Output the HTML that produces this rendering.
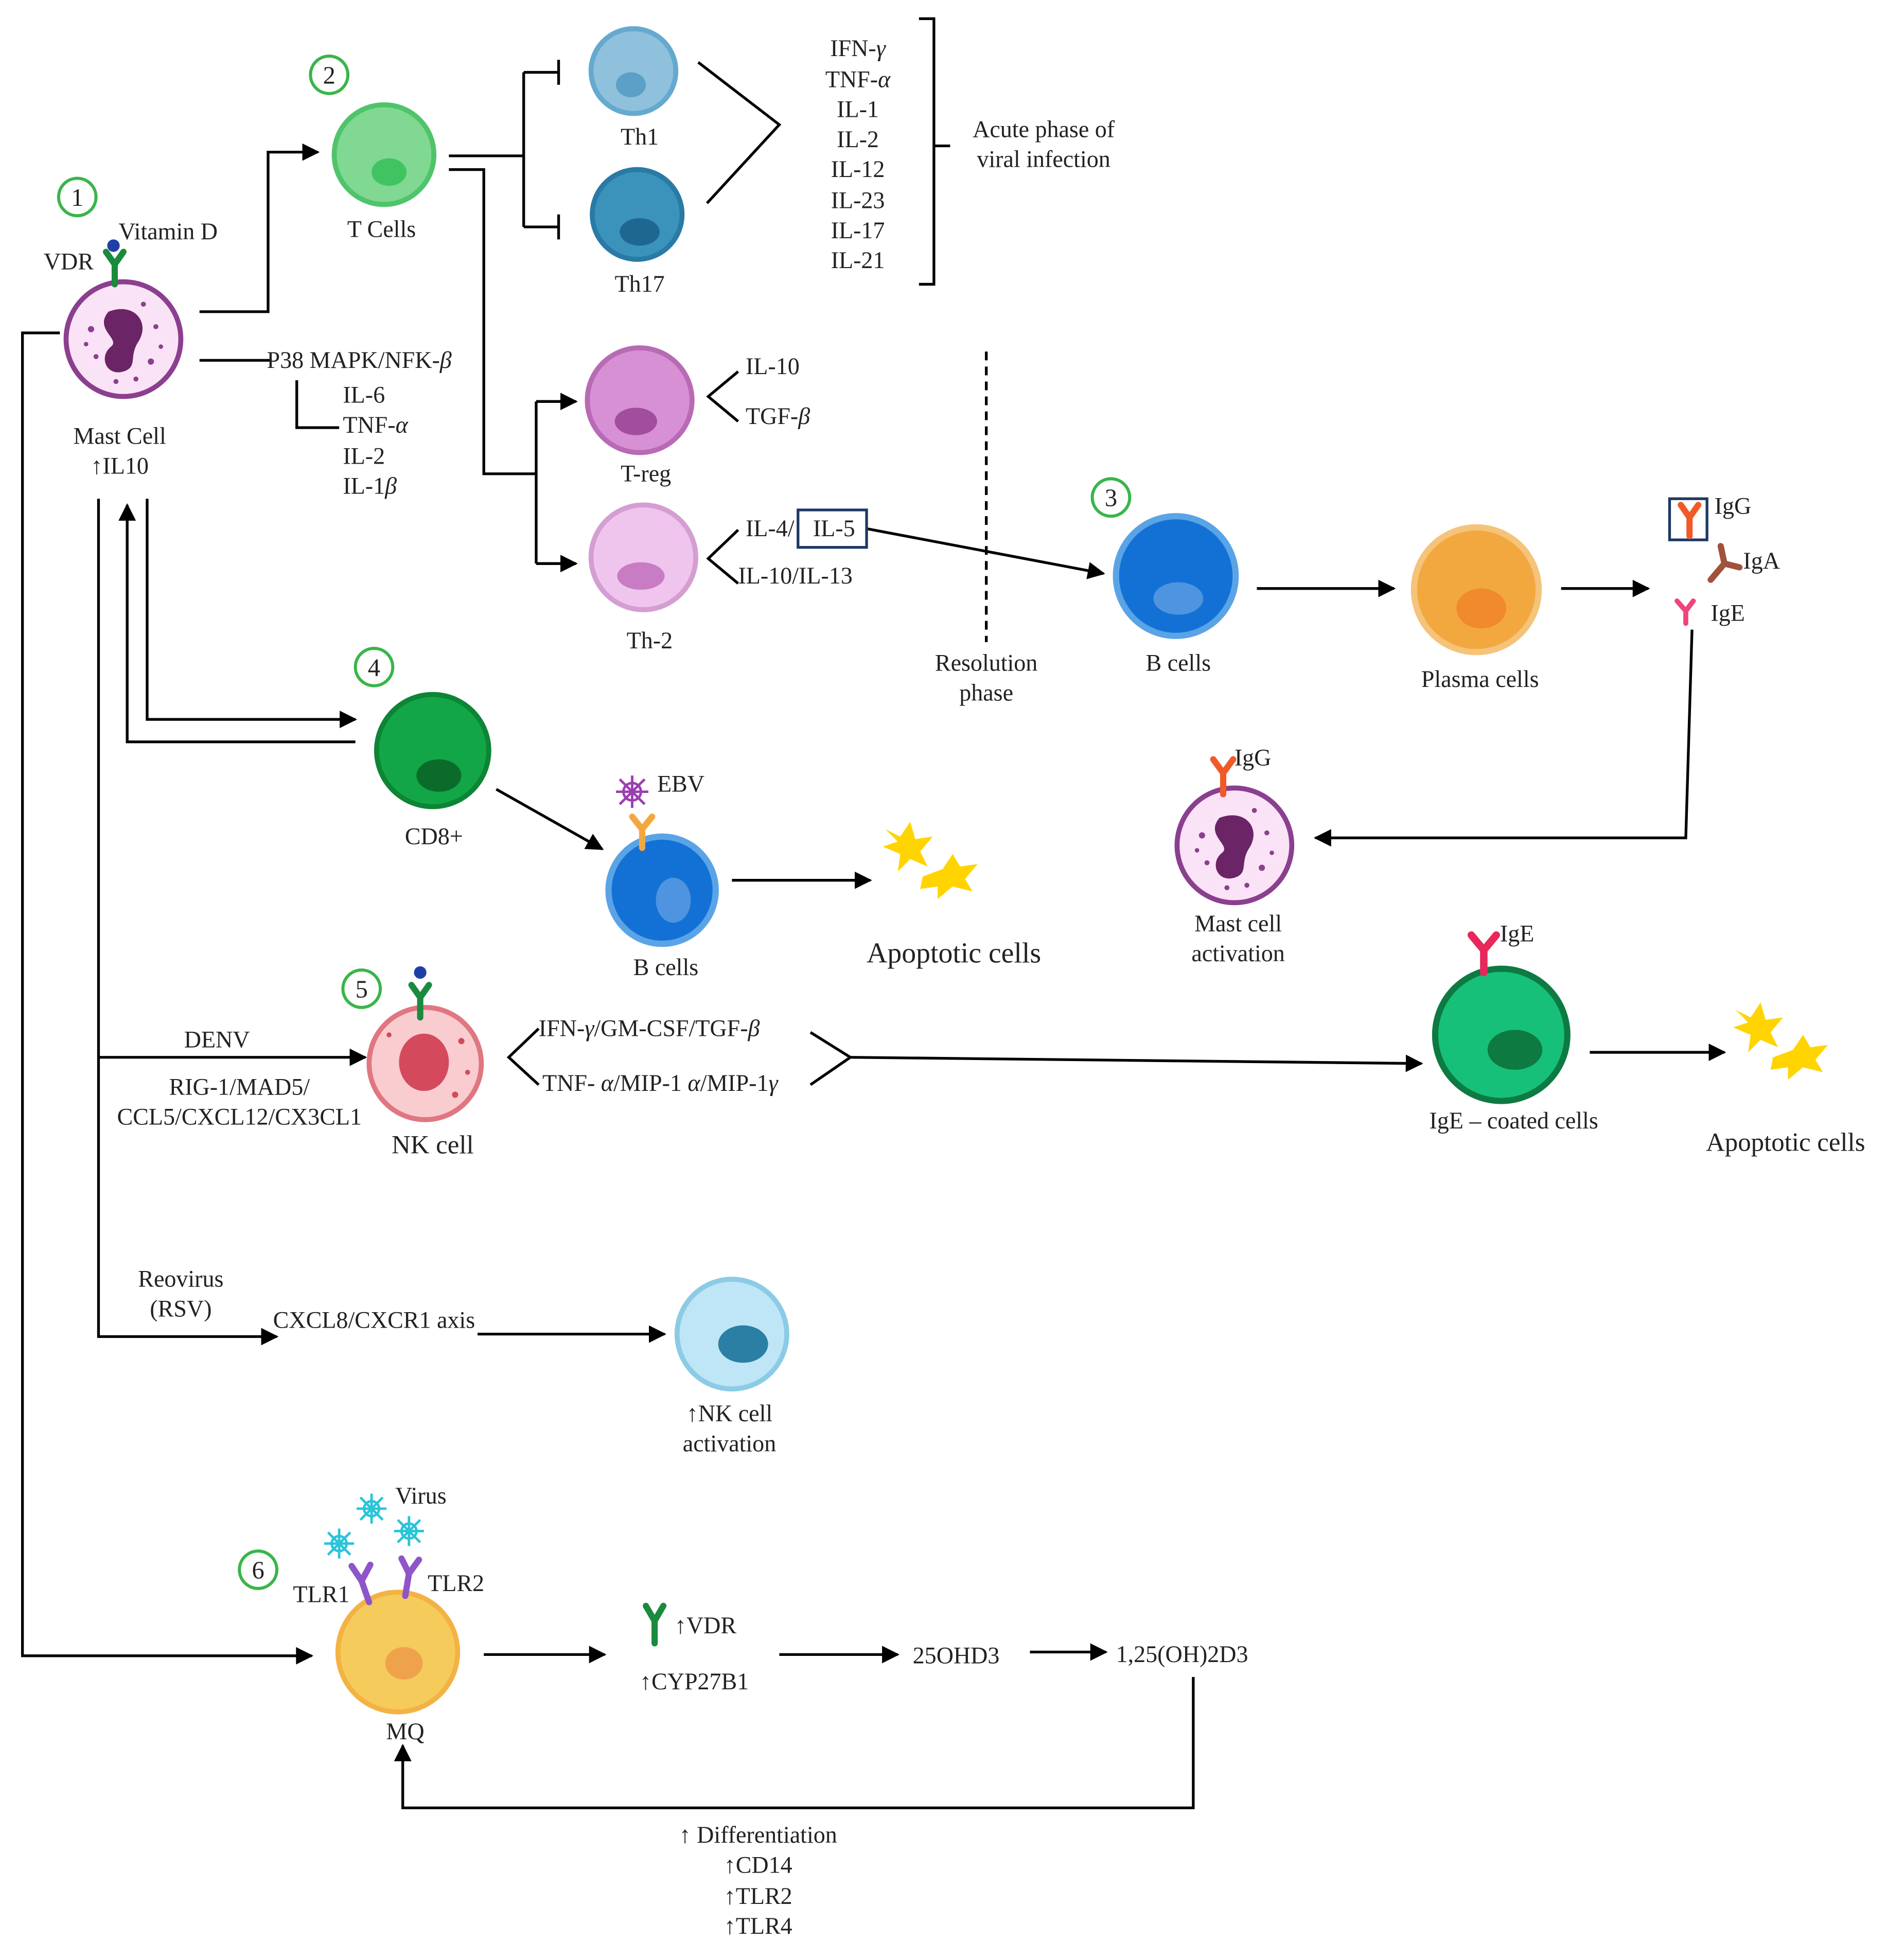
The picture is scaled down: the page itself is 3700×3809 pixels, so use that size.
<!DOCTYPE html>
<html><head><meta charset="utf-8"><style>html,body{margin:0;padding:0;background:#fff}svg{display:block}</style></head>
<body>
<svg width="3700" height="3809" viewBox="0 0 1527 1572" xmlns="http://www.w3.org/2000/svg" font-family="'Liberation Serif', serif" font-size="19" fill="#222">
<defs>
<marker id="a" viewBox="0 0 10 10" refX="9" refY="5" markerWidth="7" markerHeight="7" orient="auto-start-reverse" markerUnits="userSpaceOnUse"><path d="M0 0L10 5L0 10z" fill="#000"/></marker>
<marker id="b" viewBox="0 0 10 10" refX="9" refY="5" markerWidth="14" markerHeight="14" orient="auto" markerUnits="userSpaceOnUse"><path d="M0 0L10 5L0 10z" fill="#000"/></marker>
<g id="mast"><circle r="46" fill="#fbe3f7" stroke="#8b3f8f" stroke-width="4"/><path d="M-12 -22 C8 -30 22 -14 12 2 C4 14 12 22 0 26 C-14 30 -20 14 -10 6 C-2 0 -24 -8 -12 -22Z" fill="#6b2466"/><g fill="#8b3f8f"><circle cx="-26" cy="-8" r="2.5"/><circle cx="-22" cy="14" r="2"/><circle cx="22" cy="18" r="2.5"/><circle cx="26" cy="-10" r="2"/><circle cx="-6" cy="34" r="2"/><circle cx="16" cy="-28" r="2"/><circle cx="-30" cy="4" r="1.8"/><circle cx="30" cy="6" r="1.8"/><circle cx="10" cy="32" r="2"/></g></g>
<g id="apo" fill="#ffd400"><path d="M-20 -20 L-8 -14 L0 -26 L4 -12 L18 -14 L8 -2 L14 10 L0 4 L-10 14 L-8 0 L-22 -6 L-10 -10Z"/><path d="M10 18 L26 12 L34 0 L40 10 L54 8 L44 20 L50 30 L34 26 L22 36 L22 26 L8 28Z"/></g>
</defs>
<g fill="none" stroke="#000" stroke-width="2.2">
<path d="M160 250H215V122H255" marker-end="url(#b)"/>
<path d="M160 289H218"/>
<path d="M238 305V343H272"/>
<path d="M48 267H18V1328H250" marker-end="url(#b)"/>
<path d="M360 125H420M420 58V182M420 58H448M420 182H448M448 48V68M448 172V192"/>
<path d="M360 136H388V380H430M430 322V452M430 322H460M430 452H460" />
<path d="M430 322H462" marker-end="url(#b)"/><path d="M430 452H462" marker-end="url(#b)"/>
<path d="M560 50L625 100L567 163"/>
<path d="M737 15H749V228H737M749 117H762"/>
<path d="M592 298L568 318L592 338"/>
<path d="M592 425L568 448L592 468"/>
<path d="M695 424L885 460" marker-end="url(#b)"/>
<path d="M791 282V515" stroke-dasharray="7 5"/>
<path d="M1008 472H1118" marker-end="url(#b)"/>
<path d="M1252 472H1322" marker-end="url(#b)"/>
<path d="M1357 505L1352 672H1055" marker-end="url(#b)"/>
<path d="M285 595H102V405" marker-end="url(#b)"/>
<path d="M118 400V577H285" marker-end="url(#b)"/>
<path d="M79 400V1072H222" marker-end="url(#b)"/>
<path d="M79 848H293" marker-end="url(#b)"/>
<path d="M398 633L483 681" marker-end="url(#b)"/>
<path d="M587 706H698" marker-end="url(#b)"/>
<path d="M432 825L408 848L432 870M650 828L682 848L650 870"/>
<path d="M682 848L1140 853" marker-end="url(#b)"/>
<path d="M1275 844H1383" marker-end="url(#b)"/>
<path d="M383 1070H533" marker-end="url(#b)"/>
<path d="M388 1327H485" marker-end="url(#b)"/>
<path d="M625 1327H720" marker-end="url(#b)"/>
<path d="M826 1325H887" marker-end="url(#b)"/>
<path d="M957 1345V1450H323V1400" marker-end="url(#b)"/>
<rect x="640" y="409" width="55" height="30" stroke="#1f3864"/>
<rect x="1339" y="400" width="30" height="33" stroke="#1f3864"/>
</g>
<!-- cells -->
<use href="#mast" x="99" y="272"/>
<use href="#mast" x="990" y="678"/>
<circle cx="308" cy="124" r="40" fill="#80d892" stroke="#4fc46a" stroke-width="4"/><ellipse cx="312" cy="138" rx="14" ry="11" fill="#3fc461"/>
<circle cx="508" cy="57" r="34" fill="#8fc1dc" stroke="#66a9cf" stroke-width="4"/><ellipse cx="506" cy="68" rx="12" ry="10" fill="#5c9fc7"/>
<circle cx="511" cy="172" r="36" fill="#3b93bb" stroke="#2a7aa6" stroke-width="4"/><ellipse cx="513" cy="186" rx="16" ry="11" fill="#1d6791"/>
<circle cx="513" cy="321" r="42" fill="#d790d3" stroke="#b86ab5" stroke-width="4"/><ellipse cx="510" cy="338" rx="17" ry="11" fill="#a24d9e"/>
<circle cx="516" cy="447" r="42" fill="#efc5ed" stroke="#d49ed3" stroke-width="4"/><ellipse cx="514" cy="462" rx="19" ry="11" fill="#c87cc4"/>
<circle cx="943" cy="462" r="48" fill="#1371d6" stroke="#5aa4e6" stroke-width="5"/><ellipse cx="945" cy="480" rx="20" ry="13" fill="#4f94e0"/>
<circle cx="1184" cy="473" r="50" fill="#f2a83f" stroke="#f5c37a" stroke-width="5"/><ellipse cx="1188" cy="488" rx="20" ry="16" fill="#f08a2c"/>
<circle cx="347" cy="602" r="45" fill="#13a646" stroke="#0e8436" stroke-width="4"/><ellipse cx="352" cy="622" rx="18" ry="13" fill="#0b6b2b"/>
<circle cx="531" cy="714" r="43" fill="#1371d6" stroke="#5aa4e6" stroke-width="5"/><ellipse cx="540" cy="722" rx="14" ry="18" fill="#4f94e0"/>
<circle cx="341" cy="853" r="45" fill="#f9ccd0" stroke="#e07680" stroke-width="4"/><ellipse cx="340" cy="852" rx="20" ry="23" fill="#d44a5c"/>
<g fill="#d44a5c"><circle cx="370" cy="835" r="2.5"/><circle cx="375" cy="860" r="2"/><circle cx="365" cy="878" r="2.5"/><circle cx="312" cy="830" r="2"/></g>
<circle cx="1204" cy="830" r="53" fill="#17c079" stroke="#0d7a42" stroke-width="5"/><ellipse cx="1215" cy="842" rx="22" ry="16" fill="#0d7a42"/>
<circle cx="587" cy="1070" r="44" fill="#bfe6f6" stroke="#8ccbe5" stroke-width="4"/><ellipse cx="596" cy="1078" rx="20" ry="15" fill="#2b7fa4"/>
<circle cx="319" cy="1325" r="48" fill="#f5cb5c" stroke="#f3b344" stroke-width="4"/><ellipse cx="324" cy="1334" rx="15" ry="13" fill="#efa24c"/>
<use href="#apo" x="730" y="685"/>
<use href="#apo" x="1412" y="830"/>
<!-- receptors -->
<g fill="none" stroke-width="5" stroke-linecap="round">
<path d="M92 228V212M92 212L85 202M92 212L99 202" stroke="#1a8a3e"/>
<path d="M337 816V800M337 800L330 790M337 800L344 790" stroke="#1a8a3e"/>
<path d="M525 1318V1300M525 1300L518 1288M525 1300L532 1288" stroke="#1a8a3e"/>
<path d="M1355 430V415M1355 415L1348 405M1355 415L1362 405" stroke="#f05a28"/>
<path d="M1372 465L1383 452M1383 452L1380 438M1383 452L1395 455" stroke="#a0523d"/>
<path d="M1352 500V490M1352 490L1345 482M1352 490L1358 482" stroke="#f0457a" stroke-width="4"/>
<path d="M981 637V620M981 620L973 609M981 620L989 609" stroke="#f05a28"/>
<path d="M1190 780V762M1190 762L1180 750M1190 762L1200 750" stroke="#e8285a" stroke-width="6"/>
<path d="M515 680V665M515 665L507 655M515 665L523 655" stroke="#f2a83f"/>
<path d="M296 1285L290 1268M290 1268L282 1256M290 1268L297 1255" stroke="#8e55c8"/>
<path d="M325 1280L328 1262M328 1262L322 1250M328 1262L336 1251" stroke="#8e55c8"/>
</g>
<circle cx="91" cy="197" r="5" fill="#1f3fa8"/><circle cx="337" cy="780" r="5" fill="#1f3fa8"/>
<g fill="none" stroke="#9b3fb0" stroke-width="2"><circle cx="507" cy="635" r="7"/><path d="M497 625l20 20M517 625l-20 20M507 622v26M494 635h26"/></g>
<g fill="none" stroke="#2bc4d8" stroke-width="2"><circle cx="298" cy="1210" r="6"/><path d="M289 1201l18 18M307 1201l-18 18M298 1198v24M286 1210h24"/><circle cx="272" cy="1238" r="6"/><path d="M263 1229l18 18M281 1229l-18 18M272 1226v24M260 1238h24"/><circle cx="328" cy="1228" r="6"/><path d="M319 1219l18 18M337 1219l-18 18M328 1216v24M316 1228h24"/></g>
<!-- numbers -->
<g fill="#fff" stroke="#3ab54a" stroke-width="2.5"><circle cx="62" cy="158" r="15"/><circle cx="264" cy="60" r="15"/><circle cx="891" cy="399" r="15"/><circle cx="300" cy="535" r="15"/><circle cx="290" cy="793" r="15"/><circle cx="207" cy="1259" r="15"/></g>
<g text-anchor="middle" font-size="20"><text x="62" y="165">1</text><text x="264" y="67">2</text><text x="891" y="406">3</text><text x="300" y="542">4</text><text x="290" y="800">5</text><text x="207" y="1266">6</text></g>
<!-- text -->
<text x="95" y="192">Vitamin D</text><text x="35" y="216">VDR</text>
<text x="214" y="295">P38 MAPK/NFK-<tspan font-style="italic">β</tspan></text>
<text x="275" y="323">IL-6</text><text x="275" y="347">TNF-<tspan font-style="italic">α</tspan></text><text x="275" y="372">IL-2</text><text x="275" y="396">IL-1<tspan font-style="italic">β</tspan></text>
<g text-anchor="middle">
<text x="96" y="356">Mast Cell</text><text x="96" y="380">↑IL10</text>
<text x="306" y="190">T Cells</text><text x="513" y="116">Th1</text><text x="513" y="234">Th17</text>
<text x="518" y="386">T-reg</text><text x="521" y="520">Th-2</text>
<text x="688" y="45">IFN-<tspan font-style="italic">γ</tspan></text><text x="688" y="70">TNF-<tspan font-style="italic">α</tspan></text><text x="688" y="94">IL-1</text><text x="688" y="118">IL-2</text><text x="688" y="142">IL-12</text><text x="688" y="167">IL-23</text><text x="688" y="191">IL-17</text><text x="688" y="215">IL-21</text>
<text x="837" y="110">Acute phase of</text><text x="837" y="134">viral infection</text>
<text x="791" y="538">Resolution</text><text x="791" y="562">phase</text>
<text x="945" y="538">B cells</text><text x="1187" y="551">Plasma cells</text>
<text x="348" y="677">CD8+</text><text x="534" y="782">B cells</text>
<text x="765" y="772" font-size="23">Apoptotic cells</text>
<text x="993" y="747">Mast cell</text><text x="993" y="771">activation</text>
<text x="174" y="840">DENV</text><text x="192" y="878">RIG-1/MAD5/</text><text x="192" y="902">CCL5/CXCL12/CX3CL1</text>
<text x="347" y="925" font-size="21">NK cell</text>
<text x="1214" y="905">IgE – coated cells</text>
<text x="1432" y="923" font-size="21">Apoptotic cells</text>
<text x="145" y="1032">Reovirus</text><text x="145" y="1056">(RSV)</text>
<text x="585" y="1140">↑NK cell</text><text x="585" y="1164">activation</text>
<text x="325" y="1395">MQ</text>
<text x="608" y="1478">↑ Differentiation</text><text x="608" y="1502">↑CD14</text><text x="608" y="1527">↑TLR2</text><text x="608" y="1551">↑TLR4</text>
</g>
<text x="598" y="300">IL-10</text><text x="598" y="340">TGF-<tspan font-style="italic">β</tspan></text>
<text x="598" y="430">IL-4/</text><text x="652" y="430">IL-5</text><text x="592" y="468">IL-10/IL-13</text>
<text x="1375" y="412">IgG</text><text x="1398" y="456">IgA</text><text x="1372" y="498">IgE</text>
<text x="990" y="614">IgG</text><text x="1203" y="755">IgE</text>
<text x="527" y="635">EBV</text>
<text x="432" y="831">IFN-<tspan font-style="italic">γ</tspan>/GM-CSF/TGF-<tspan font-style="italic">β</tspan></text>
<text x="435" y="875">TNF- <tspan font-style="italic">α</tspan>/MIP-1 <tspan font-style="italic">α</tspan>/MIP-1<tspan font-style="italic">γ</tspan></text>
<text x="219" y="1065">CXCL8/CXCR1 axis</text>
<text x="317" y="1206">Virus</text><text x="235" y="1285">TLR1</text><text x="343" y="1276">TLR2</text>
<text x="541" y="1310">↑VDR</text><text x="513" y="1355">↑CYP27B1</text>
<text x="732" y="1334">25OHD3</text><text x="895" y="1333">1,25(OH)2D3</text>
</svg>
</body></html>
